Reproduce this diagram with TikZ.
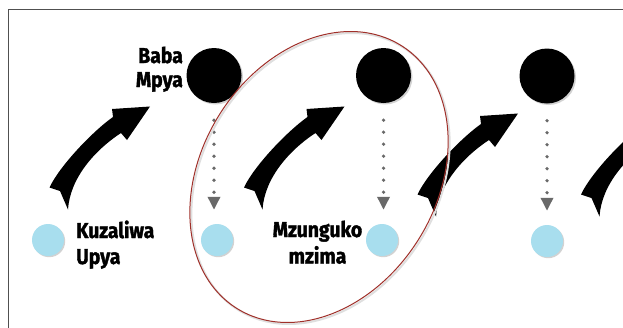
\documentclass[tikz,border=0pt]{standalone}
\usepackage{fontspec}
\newfontfamily\lblfont{Fira Sans}[FakeStretch=0.9,FakeBold=1.6]
\usetikzlibrary{arrows.meta,shapes.geometric,shadows}
\definecolor{skyc}{RGB}{168,222,238}
\definecolor{ellc}{RGB}{160,48,42}
\definecolor{dotc}{RGB}{105,105,105}
\definecolor{framec}{RGB}{80,80,80}
\tikzset{
  swooshpic/.pic={
    \fill[black] (49.5,187.5) .. controls (59.5,166) and (93,131) .. (113,117)
      -- (112,109) -- (150,106.5) -- (127,140) -- (121,133)
      .. controls (95,150) and (70,178) .. (68,209.5) -- (60,191) -- cycle;
  }
}
\begin{document}
\begin{tikzpicture}[x=1pt,y=-1pt,
  bigdot/.style={circle, fill=black, minimum size=55pt, inner sep=0pt,
    drop shadow={shadow xshift=1.5pt, shadow yshift=-1.5pt, fill=gray!70, opacity=.5}},
  smalldot/.style={circle, fill=skyc, minimum size=32pt, inner sep=0pt,
    drop shadow={shadow xshift=1.2pt, shadow yshift=-1.2pt, fill=gray!70, opacity=.5}},
  lbl/.style={font=\lblfont\bfseries\fontsize{21.5}{25}\selectfont, inner sep=0pt},
  dotarrow/.style={draw=dotc, line width=3.6pt, line cap=round, dash pattern=on 0pt off 12pt,
    shorten <=17pt, shorten >=14pt, -{Triangle[length=13pt,width=12pt,fill=dotc]}}]
\useasboundingbox (0,0) rectangle (623,327);
\clip (0,0) rectangle (623,327);
\fill[white] (0,0) rectangle (623,327);
% frame
\draw[framec, line width=1.3pt] (8.5,330) -- (8.5,9.5) -- (626,9.5);
% curved arrows
\pic at (0,0) {swooshpic};
\pic at (194.5,0) {swooshpic};
\pic at (368,7) {swooshpic};
\pic at (531.5,7) {swooshpic};
% circles
\node[bigdot] (b1) at (214,75.5) {};
\node[bigdot] (b2) at (383.5,75.5) {};
\node[bigdot] (b3) at (547,76) {};
\node[smalldot] (u1) at (48,240) {};
\node[smalldot] (u2) at (217,240) {};
\node[smalldot] (u3) at (382,240) {};
\node[smalldot] (u4) at (547,241) {};
% dotted arrows
\draw[dotarrow] (b1.south) -- (b1.south |- u2.north);
\draw[dotarrow] (b2.south) -- (b2.south |- u3.north);
\draw[dotarrow] (b3.south) -- (b3.south |- u4.north);
% labels
\node[lbl, anchor=base east] (baba) at (183,63) {Baba};
\node[lbl, anchor=base east] (mpya) at (183,87) {Mpya};
\node[lbl, anchor=base west] (kuz) at (76,238) {Kuzaliwa};
\node[lbl, anchor=base west] (upya) at (76,264) {Upya};
\node[lbl, anchor=base] (mzu) at (317.5,237) {Mzunguko};
\node[lbl, anchor=base] (mzi) at (317.5,263.5) {mzima};
% cycle ellipse
\draw[gray!25, line width=2pt, rotate around={58:(320.5,178.5)}]
  (320.5,178.5) ellipse [x radius=155, y radius=117.5];
\draw[ellc, line width=1pt, rotate around={58:(319,177)}]
  (319,177) ellipse [x radius=155, y radius=117.5];
\end{tikzpicture}
\end{document}
